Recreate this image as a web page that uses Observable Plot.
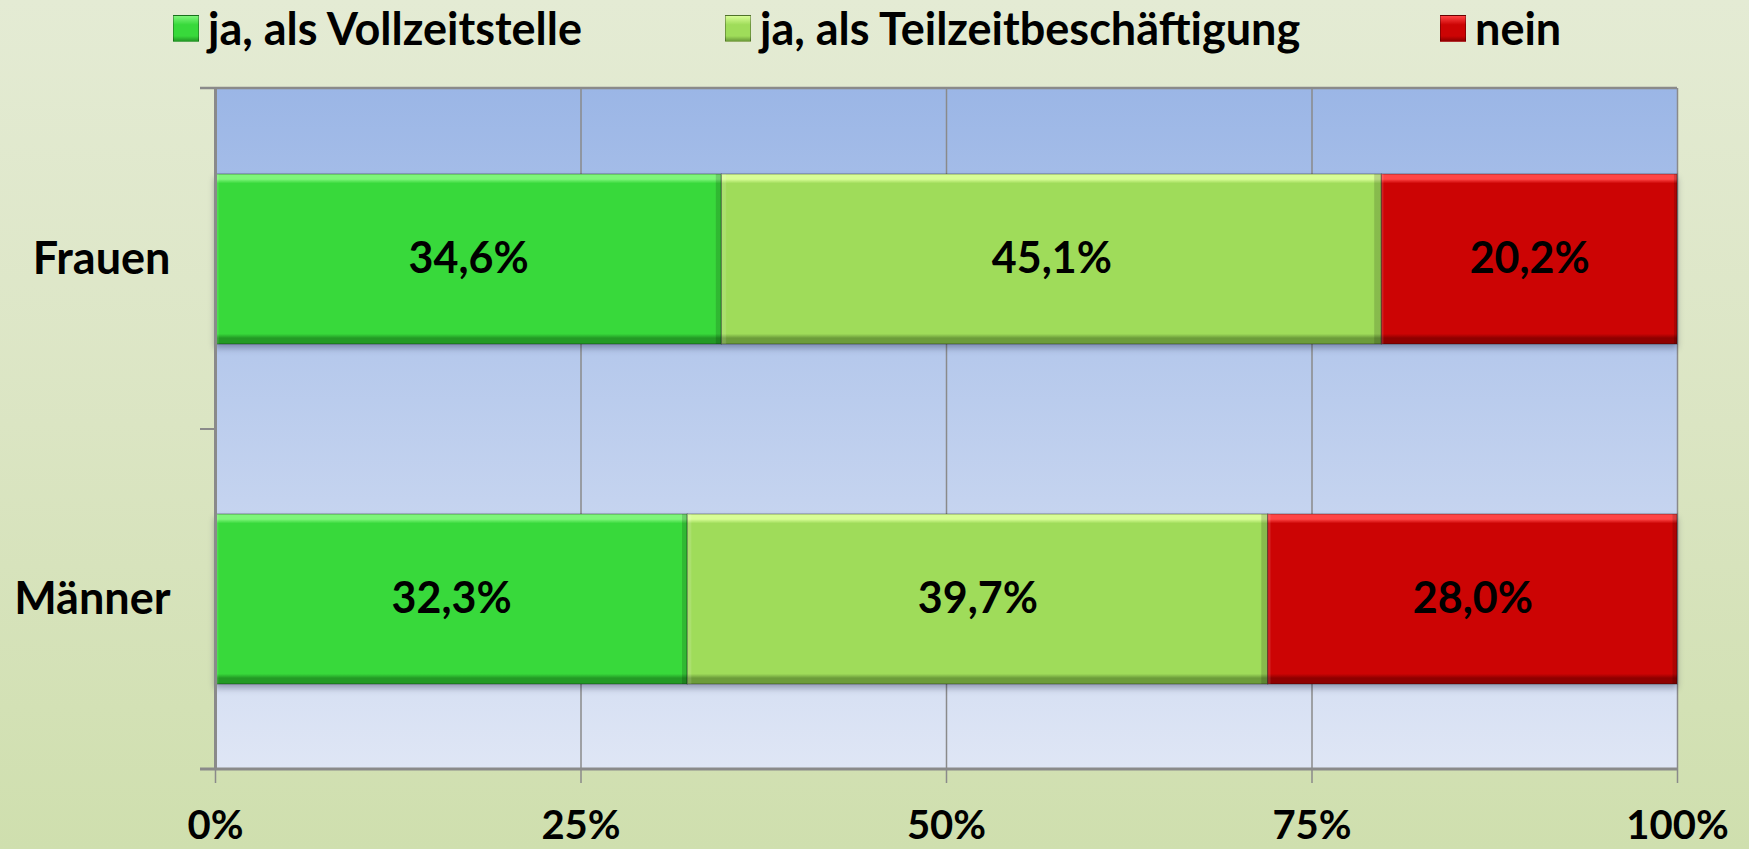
<!DOCTYPE html>
<html><head><meta charset="utf-8">
<script src="https://cdn.jsdelivr.net/npm/d3@7"></script>
<script src="https://cdn.jsdelivr.net/npm/@observablehq/plot@0.6"></script>
<style>
html,body{margin:0;padding:0;width:1749px;height:849px;overflow:hidden}
body{background:linear-gradient(to bottom,#e4ebd4 0%,#dbe5c3 50%,#cfdfae 100%);font-family:Lato,sans-serif;color:#000}
#legend{position:relative;height:60px}
.item{position:absolute;top:2px;display:flex;align-items:center;font-weight:bold;font-size:45px;line-height:52px;white-space:nowrap}
.sw{width:26px;height:27px;margin-right:9px;box-sizing:border-box;border:1px solid rgba(0,0,0,0.3)}
</style></head><body>
<div id="legend"></div><div id="chart"></div>
<script>
const groups = ["Frauen", "Männer"];
const series = ["ja, als Vollzeitstelle", "ja, als Teilzeitbeschäftigung", "nein"];
const frauen = [34.6, 45.1, 20.2];
const maenner = [32.3, 39.7, 28.0];
const xTicks = [0, 0.25, 0.5, 0.75, 1];
const xTickLabels = ["0%", "25%", "50%", "75%", "100%"];
const mainColors = ["#38d93b", "#9fdc5a", "#cc0404"];
const lightColors = ["#7ef57a", "#d8fd96", "#ff4545"];
const darkColors = ["#239a25", "#6c9c3a", "#8e0000"];
const legendLefts = [173, 725, 1440];

(function () {
const data = [];
groups.forEach((g, gi) => {
  const vals = gi === 0 ? frauen : maenner;
  series.forEach((s, si) => data.push({group: g, series: s, value: vals[si]}));
});
const fmt = v => v.toFixed(1).replace(".", ",") + "%";
const gradIds = ["gVoll", "gTeil", "gNein"];

// legend
const legend = d3.select("#legend");
series.forEach((s, i) => {
  const it = legend.append("div").attr("class", "item").style("left", legendLefts[i] + "px");
  it.append("div").attr("class", "sw")
    .style("background", `linear-gradient(to bottom, ${lightColors[i]} 0%, ${mainColors[i]} 35%, ${mainColors[i]} 80%, ${darkColors[i]} 100%)`);
  it.append("span").text(s);
});

const stackOpts = {x: "value", y: "group", z: "series", offset: "normalize"};

const chart = Plot.plot({
  width: 1749, height: 789,
  marginTop: 28, marginBottom: 80, marginLeft: 215, marginRight: 72,
  style: {fontFamily: "Lato, sans-serif", background: "transparent", color: "#000", overflow: "visible"},
  x: {domain: [0, 1], label: null},
  y: {domain: groups, paddingInner: 0.5, paddingOuter: 0.25, label: null},
  color: {domain: series, range: gradIds.map(id => `url(#${id})`)},
  marks: [
    Plot.frame({fill: "url(#plotbg)"}),
    Plot.gridX(xTicks, {stroke: "#8a8a8a", strokeOpacity: 1, strokeWidth: 1.5}),
    Plot.barX(data, Plot.stackX({...stackOpts, fill: "series", stroke: "rgba(0,0,0,0.3)", strokeWidth: 1.2})),
    Plot.barX(data, Plot.stackX({...stackOpts, fill: "url(#hbev)"})),
    Plot.text(data, Plot.stackX({...stackOpts, text: d => fmt(d.value), fontSize: 43, fontWeight: "bold", fill: "#000"})),
    Plot.axisX({ticks: xTicks, tickFormat: (d, i) => xTickLabels[i], tickSize: 14, tickPadding: 27, fontSize: 40, fontWeight: "bold", stroke: "#8a8a8a", strokeWidth: 1.5, label: null}),
    Plot.axisY({tickSize: 0, tickPadding: 45, fontSize: 45, fontWeight: "bold", label: null}),
    Plot.ruleX([0], {stroke: "#8a8a8a", strokeWidth: 3})
  ]
});
document.getElementById("chart").appendChild(chart);

const svg = d3.select(chart);
const defs = svg.insert("defs", ":first-child");
function grad(id, stops, horizontal) {
  const g = defs.append("linearGradient").attr("id", id)
    .attr("x1", 0).attr("y1", 0).attr("x2", horizontal ? 1 : 0).attr("y2", horizontal ? 0 : 1);
  stops.forEach(([o, c, op]) => g.append("stop").attr("offset", o).attr("stop-color", c).attr("stop-opacity", op == null ? 1 : op));
}
grad("plotbg", [["0%", "#9bb6e6"], ["100%", "#dfe6f5"]]);
gradIds.forEach((id, i) => grad(id, [
  ["0%", lightColors[i]], ["3%", lightColors[i]], ["5.5%", mainColors[i]],
  ["94%", mainColors[i]], ["96.5%", darkColors[i]], ["100%", darkColors[i]]
]));
grad("hbev", [
  ["0%", "#ffffff", 0.12], ["0.6%", "#ffffff", 0.12], ["0.8%", "#ffffff", 0],
  ["98.8%", "#000000", 0], ["99%", "#000000", 0.15], ["100%", "#000000", 0.15]
], true);

svg.select('g[aria-label="bar"]').style("filter", "drop-shadow(0px 4px 3px rgba(20,30,60,0.35))");

// category boundary ticks and outer lines, from the plot's own scales
const ys = chart.scale("y");
const xs = chart.scale("x");
const yTop = ys.range[0], yBottom = ys.range[1];
const yMid = (ys.apply(groups[0]) + ys.bandwidth + ys.apply(groups[1])) / 2;
const x0 = xs.apply(0), x1 = xs.apply(1);
const gl = svg.append("g").attr("stroke", "#8a8a8a");
[yTop, yMid, yBottom].forEach(y => gl.append("line").attr("x1", x0 - 15).attr("x2", x0).attr("y1", y).attr("y2", y).attr("stroke-width", 2));
gl.append("line").attr("x1", x0 - 15).attr("x2", x1).attr("y1", yTop).attr("y2", yTop).attr("stroke-width", 2.5);
gl.append("line").attr("x1", x0 - 15).attr("x2", x1).attr("y1", yBottom).attr("y2", yBottom).attr("stroke-width", 3);
})();
</script>
</body></html>
